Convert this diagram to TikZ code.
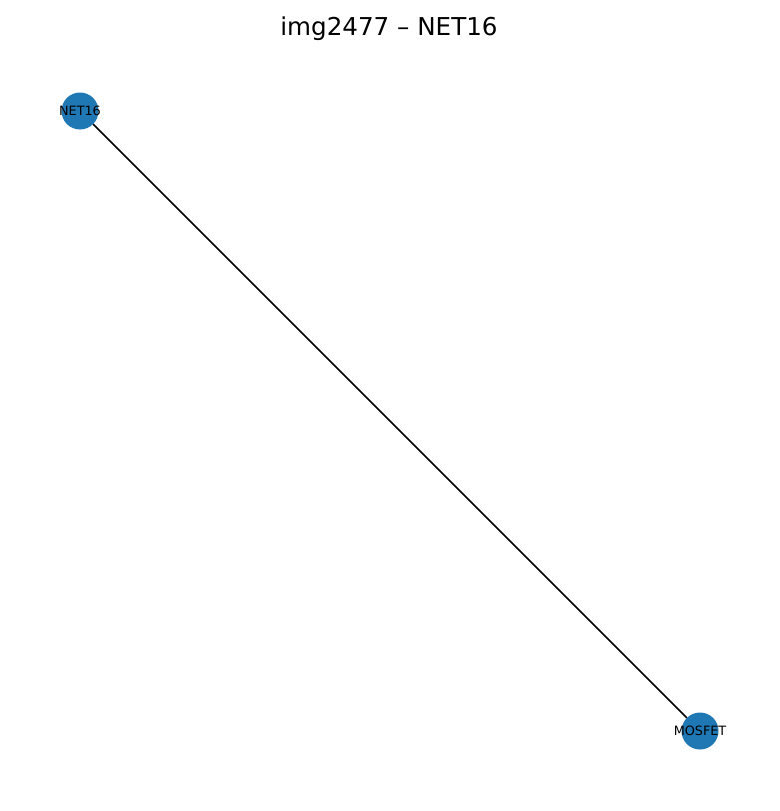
\documentclass[tikz,border=0pt]{standalone}
\usepackage{fontspec}
\setmainfont{DejaVu Sans}
\usepackage{xcolor}
\usepackage{tikz}
\usetikzlibrary{positioning}

\definecolor{netblue}{HTML}{1F77B4}

\begin{document}
\begin{tikzpicture}[
  x=1pt, y=-1pt,
  netnode/.style={circle, fill=netblue, minimum size=37pt, inner sep=0pt},
  netlab/.style={font=\fontsize{12.8}{12.8}\selectfont},
  netedge/.style={black, line width=1.6pt},
]
% Canvas
\useasboundingbox (0,0) rectangle (779,811);

% Title
\node[font=\fontsize{24.6}{24.6}\selectfont, anchor=base] (title) at (389,35) {img2477 – NET16};

% Nodes
\node[netnode] (net16) at (80,111) {};
\node[netnode] (mosfet) at (700,731) {};

% Edge
\draw[netedge] (net16) -- (mosfet);

% Labels
\node[netlab] (net16lab) at (net16) {NET16};
\node[netlab] (mosfetlab) at (mosfet) {MOSFET};
\end{tikzpicture}
\end{document}
